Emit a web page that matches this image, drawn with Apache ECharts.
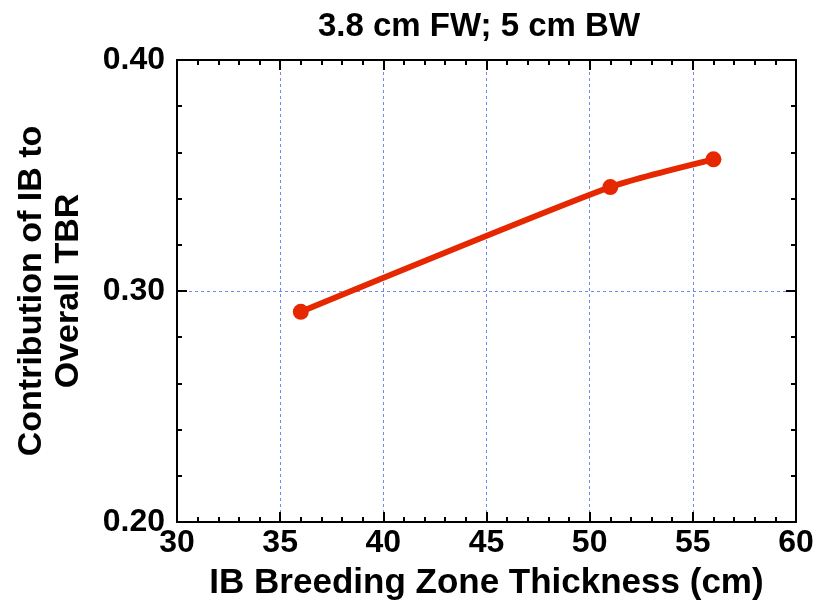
<!DOCTYPE html>
<html>
<head>
<meta charset="utf-8">
<script src="https://cdn.jsdelivr.net/npm/echarts@6/dist/echarts.min.js"></script>
<style>
  html, body { margin: 0; padding: 0; background: #fff; }
  #chart { width: 814px; height: 602px; }
</style>
</head>
<body>
<div id="chart"></div>
<script>
// IB breeding zone thickness (cm) vs contribution of IB to overall TBR
var thickness = [36, 51, 56];
var contribution = [0.291, 0.345, 0.357];

var xTicks = [30, 35, 40, 45, 50, 55, 60];
var yTicks = [0.20, 0.30, 0.40];

var FONT = '"Liberation Sans", Arial, sans-serif';
var RED = '#e62800';
var GRID_BLUE = '#6f88f2';

var chart = echarts.init(document.getElementById('chart'));

var tickCommon = { show: true, inside: true, length: 10, lineStyle: { color: '#000', width: 2 } };
var minorCommon = { show: true, splitNumber: 5, length: 5, lineStyle: { color: '#000', width: 2 } };

var option = {
  animation: false,
  backgroundColor: '#fff',
  title: {
    text: '3.8 cm FW; 5 cm BW',
    left: 474, top: 5, textAlign: 'center',
    textStyle: { fontFamily: FONT, fontWeight: 'bold', fontSize: 33, color: '#000' }
  },
  grid: { left: 177, right: 18, top: 60, bottom: 80, containLabel: false, outerBoundsMode: 'none' },
  xAxis: [{
    type: 'value',
    min: xTicks[0], max: xTicks[xTicks.length - 1], interval: 5,
    position: 'bottom',
    name: 'IB Breeding Zone Thickness (cm)',
    nameLocation: 'middle', nameGap: 44,
    nameTextStyle: { fontFamily: FONT, fontWeight: 'bold', fontSize: 35, color: '#000' },
    axisLine: { show: true, lineStyle: { color: '#000', width: 2 } },
    axisTick: tickCommon,
    minorTick: minorCommon,
    axisLabel: { fontFamily: FONT, fontWeight: 'bold', fontSize: 32, color: '#000', margin: 5 },
    splitLine: { show: true, lineStyle: { color: GRID_BLUE, type: [3, 3], width: 1 } }
  }, {
    type: 'value',
    min: xTicks[0], max: xTicks[xTicks.length - 1], interval: 5,
    position: 'top',
    axisLine: { show: true, lineStyle: { color: '#000', width: 2 } },
    axisTick: tickCommon,
    minorTick: minorCommon,
    axisLabel: { show: false },
    splitLine: { show: false }
  }],
  yAxis: [{
    type: 'value',
    min: yTicks[0], max: yTicks[yTicks.length - 1], interval: 0.1,
    position: 'left',
    name: 'Contribution of IB to\nOverall TBR',
    nameLocation: 'middle', nameGap: 90, nameRotate: 90,
    nameTextStyle: { fontFamily: FONT, fontWeight: 'bold', fontSize: 34, color: '#000', lineHeight: 37, align: 'center' },
    axisLine: { show: true, lineStyle: { color: '#000', width: 2 } },
    axisTick: tickCommon,
    minorTick: minorCommon,
    axisLabel: {
      fontFamily: FONT, fontWeight: 'bold', fontSize: 32, color: '#000', margin: 12,
      formatter: function (v) { return v.toFixed(2); }
    },
    splitLine: { show: true, lineStyle: { color: GRID_BLUE, type: [3, 3], width: 1 } }
  }, {
    type: 'value',
    min: yTicks[0], max: yTicks[yTicks.length - 1], interval: 0.1,
    position: 'right',
    axisLine: { show: true, lineStyle: { color: '#000', width: 2 } },
    axisTick: tickCommon,
    minorTick: minorCommon,
    axisLabel: { show: false },
    splitLine: { show: false }
  }],
  series: [{
    type: 'line',
    xAxisIndex: 0, yAxisIndex: 0,
    data: thickness.map(function (x, i) { return [x, contribution[i]]; }),
    smooth: 0.2,
    symbol: 'circle', symbolSize: 16,
    lineStyle: { color: RED, width: 6 },
    itemStyle: { color: RED }
  }]
};

chart.setOption(option);
</script>
</body>
</html>
